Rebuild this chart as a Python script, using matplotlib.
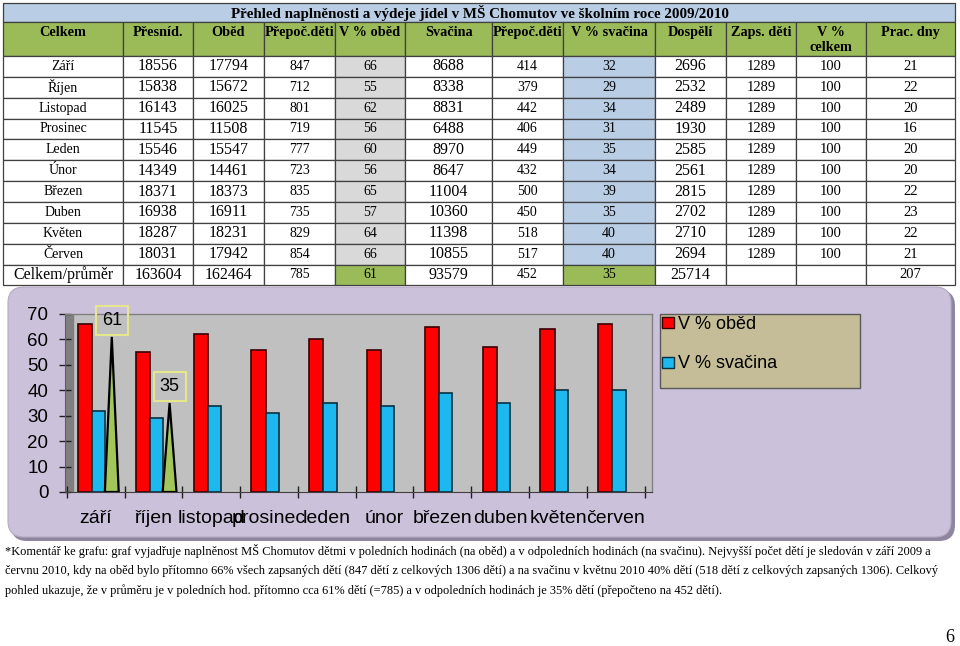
import matplotlib
matplotlib.use("Agg")
import matplotlib.pyplot as plt
import matplotlib.patches as mpatches
import numpy as np

# Table data
title = "Přehled naplněnosti a výdeje jídel v MŠ Chomutov ve školním roce 2009/2010"
headers = ["Celkem", "Přesníd.", "Oběd", "Přepoč.děti", "V % oběd", "Svačina",
           "Přepoč.děti", "V % svačina", "Dospělí", "Zaps. děti", "V %\ncelkem", "Prac. dny"]
months = ["Září", "Říjen", "Listopad", "Prosinec", "Leden", "Únor",
          "Březen", "Duben", "Květen", "Červen"]
presnid = [18556, 15838, 16143, 11545, 15546, 14349, 18371, 16938, 18287, 18031]
obed = [17794, 15672, 16025, 11508, 15547, 14461, 18373, 16911, 18231, 17942]
prepoc_obed = [847, 712, 801, 719, 777, 723, 835, 735, 829, 854]
pct_obed = [66, 55, 62, 56, 60, 56, 65, 57, 64, 66]
svacina = [8688, 8338, 8831, 6488, 8970, 8647, 11004, 10360, 11398, 10855]
prepoc_svac = [414, 379, 442, 406, 449, 432, 500, 450, 518, 517]
pct_svac = [32, 29, 34, 31, 35, 34, 39, 35, 40, 40]
dospeli = [2696, 2532, 2489, 1930, 2585, 2561, 2815, 2702, 2710, 2694]
zaps_deti = [1289] * 10
pct_celkem = [100] * 10
prac_dny = [21, 22, 20, 16, 20, 20, 22, 23, 22, 21]
totals = ["Celkem/průměr", 163604, 162464, 785, 61, 93579, 452, 35, 25714, "", "", 207]

# Chart data
chart_months = ["září", "říjen", "listopad", "prosinec", "leden", "únor",
                "březen", "duben", "květen", "červen"]
avg_values = [61, 35]   # third series, only drawn in the first two categories
legend_labels = ["V % oběd", "V % svačina"]

comment = [
    "*Komentář ke grafu: graf vyjadřuje naplněnost MŠ Chomutov dětmi v poledních hodinách (na oběd) a v odpoledních hodinách (na svačinu). Nejvyšší počet dětí je sledován v září 2009 a",
    "červnu 2010, kdy na oběd bylo přítomno 66% všech zapsaných dětí (847 dětí z celkových 1306 dětí) a na svačinu v květnu 2010 40% dětí (518 dětí z celkových zapsaných 1306). Celkový",
    "pohled ukazuje, že v průměru je v poledních hod. přítomno cca 61% dětí (=785) a v odpoledních hodinách je 35% dětí (přepočteno na 452 dětí).",
]

#-------------------------------------------------------------------------------

W, H = 960, 646
fig = plt.figure(figsize=(W / 100, H / 100), dpi=100)
fig.patch.set_facecolor("white")

# Page-level axes in pixel units (y down)
bg = fig.add_axes([0, 0, 1, 1], zorder=0)
bg.set_xlim(0, W)
bg.set_ylim(H, 0)
bg.axis("off")

SERIF = "Liberation Serif"
SANS = "Liberation Sans"

# ---- table ----
col_edges = [3, 123, 193, 264, 335, 405, 492, 563, 655, 726, 796, 866, 955]
row_edges = [56 + i * 20.85 for i in range(12)]
col_fs = [10, 11.5, 11.5, 10, 10, 11.5, 10, 10, 11.5, 10.5, 10.5, 10.5]
line_col = "#404040"

rows = []
for i in range(10):
  rows.append([months[i], presnid[i], obed[i], prepoc_obed[i], pct_obed[i], svacina[i],
               prepoc_svac[i], pct_svac[i], dospeli[i], zaps_deti[i], pct_celkem[i], prac_dny[i]])
rows.append(totals)

# title row
bg.add_patch(mpatches.Rectangle((3, 3), 952, 19, fc="#b9cde5", ec=line_col, lw=0.9))
bg.text(480, 13, title, ha="center", va="center", family=SERIF, weight="bold", fontsize=10.8)

# header row
for c in range(12):
  x0, x1 = col_edges[c], col_edges[c + 1]
  bg.add_patch(mpatches.Rectangle((x0, 22), x1 - x0, 34, fc="#9bbb59", ec=line_col, lw=0.9))
  bg.text((x0 + x1) / 2, 26, headers[c], ha="center", va="top", family=SERIF,
          weight="bold", fontsize=10.3, linespacing=1.2)

# data rows
for r, row in enumerate(rows):
  y0, y1 = row_edges[r], row_edges[r + 1]
  is_total = r == len(rows) - 1
  for c in range(12):
    x0, x1 = col_edges[c], col_edges[c + 1]
    fc = "white"
    if c == 4:
      fc = "#9bbb59" if is_total else "#d9d9d9"
    elif c == 7:
      fc = "#9bbb59" if is_total else "#b9cde5"
    bg.add_patch(mpatches.Rectangle((x0, y0), x1 - x0, y1 - y0, fc=fc, ec=line_col, lw=0.9))
    fs = col_fs[c]
    if is_total and c == 0:
      fs = 11.5
    bg.text((x0 + x1) / 2, (y0 + y1) / 2, str(row[c]), ha="center", va="center",
            family=SERIF, fontsize=fs)

# ---- chart background (rounded panel) ----
bg.add_patch(mpatches.FancyBboxPatch((11, 290), 944, 251, boxstyle="round,pad=0,rounding_size=16",
                                     fc="#8e869e", ec="none"))
bg.add_patch(mpatches.FancyBboxPatch((8, 287), 943, 250, boxstyle="round,pad=0,rounding_size=16",
                                     fc="#ccc1da", ec="#b5aac4", lw=0.8))

# legend box
bg.add_patch(mpatches.Rectangle((660, 314), 200, 74, fc="#c4bd97", ec="#595959", lw=1.0))

# ---- bar chart ----
x0px, x1px, cat_w = 65, 652, 57.8
first_edge = 66.7
ax = fig.add_axes([x0px / W, (H - 492) / H, (x1px - x0px) / W, (492 - 314) / H], zorder=1)
ax.set_xlim((x0px - first_edge) / cat_w, (x1px - first_edge) / cat_w)
ax.set_ylim(0, 70)
ax.set_facecolor("#c0c0c0")
ax.axvspan((x0px - first_edge) / cat_w, (73 - first_edge) / cat_w, color="#7f7f7f", zorder=0)

x = np.arange(len(chart_months))
ax.bar(x + 0.195, pct_obed, width=0.245, align="edge", color="#ff0000",
       edgecolor="#3a0000", lw=1.2, zorder=2)
ax.bar(x + 0.44, pct_svac, width=0.23, align="edge", color="#1cb8ee",
       edgecolor="#08303f", lw=1.2, zorder=2)

for i, v in enumerate(avg_values):
  ax.fill([i + 0.66, i + 0.78, i + 0.90], [0, v, 0], color="#a2c65a",
          edgecolor="black", lw=1.6, zorder=3)
  ax.annotate(str(v), xy=(i + 0.78, v), xytext=(0, 12), textcoords="offset points",
              ha="center", va="center", family=SANS, fontsize=13,
              bbox=dict(boxstyle="square,pad=0.33", fc="none", ec="#e6e68c", lw=1.5), zorder=4)

ax.set_yticks(np.arange(0, 71, 10))
ax.set_xticks(np.arange(len(chart_months) + 1))
ax.set_xticklabels([])
ax.set_xticks(x + 0.5, minor=True)
ax.set_xticklabels(chart_months, minor=True, family=SANS, fontsize=14)
ax.tick_params(axis="x", which="major", direction="inout", length=8, width=1, color="#202020")
ax.tick_params(axis="x", which="minor", length=0, pad=13)
ax.tick_params(axis="y", direction="inout", length=8, width=1, color="#202020", pad=8)
for lab in ax.get_yticklabels():
  lab.set_family(SANS)
  lab.set_fontsize(13.5)

for side in ["top", "right"]:
  ax.spines[side].set_color("#808080")
  ax.spines[side].set_linewidth(1.0)
ax.spines["left"].set_color("#606060")
ax.spines["bottom"].set_color("#404040")

handles = [mpatches.Patch(fc="#ff0000", ec="#3a0000", lw=1.0),
           mpatches.Patch(fc="#1cb8ee", ec="#08303f", lw=1.0)]
ax.legend(handles, legend_labels, loc="upper left", bbox_to_anchor=(661 / W, 1 - 315 / H),
          bbox_transform=fig.transFigure, frameon=False, prop=dict(family=SANS, size=13),
          handlelength=0.65, handleheight=0.55, handletextpad=0.25, labelspacing=1.25,
          borderpad=0.05, borderaxespad=0.0)

# ---- comment text ----
for k, line in enumerate(comment):
  bg.text(5, 551 + k * 20, line, ha="left", va="center", family=SERIF, fontsize=8.9)

bg.text(954, 638, "6", ha="right", va="center", family=SERIF, fontsize=13)

fig.savefig("out.png", dpi=100, facecolor="white")
